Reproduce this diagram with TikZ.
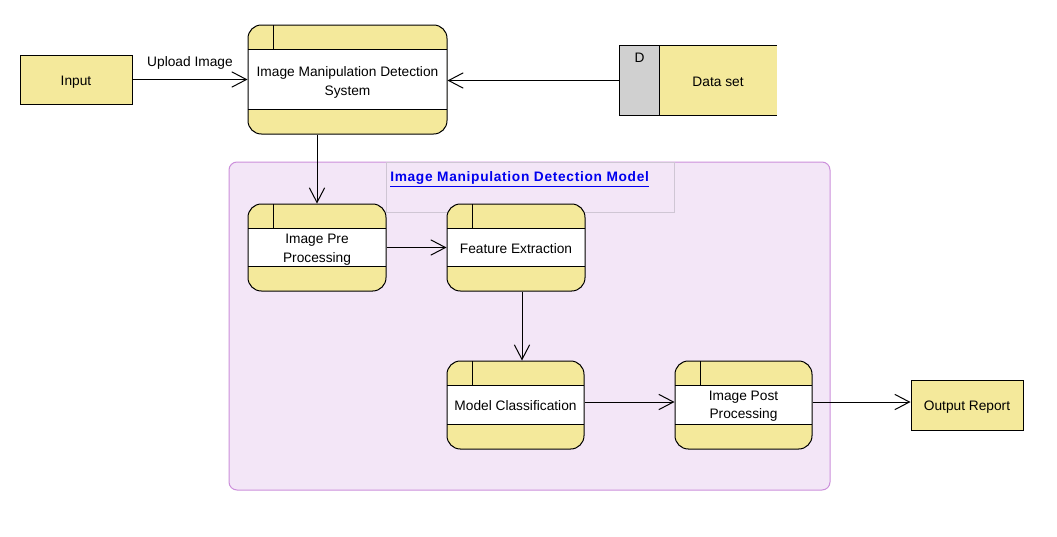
\documentclass[tikz,border=0pt]{standalone}
\usepackage{fontspec}
\setmainfont{Liberation Sans}
\usetikzlibrary{arrows.meta,calc}
\definecolor{dfdyellow}{HTML}{F4E99B}
\definecolor{dsgray}{HTML}{D0D0D0}
\definecolor{pkgfill}{HTML}{F3E6F7}
\definecolor{pkgline}{HTML}{CC8FDB}
\definecolor{titleline}{HTML}{CFC6D4}
\definecolor{linkblue}{HTML}{0000EE}
\tikzset{
  every node/.style={font=\fontsize{10.3}{13.8}\selectfont},
  conn/.style={draw=black,line width=0.75pt,-{Straight Barb[length=11pt,width=11.5pt,line width=0.75pt]}},
  entity/.style={draw=black,line width=0.75pt,fill=dfdyellow,rectangle,inner sep=0pt},
  txt/.style={label={[yshift=-#1,inner sep=0pt,align=center]center:{\nodetext}}},
  process/.style={draw=black,line width=0.75pt,fill=dfdyellow,rectangle,rounded corners=10pt,inner sep=0pt,align=center,
    path picture={
      \begin{scope}[sharp corners]
      \fill[white] ([yshift=-18pt]path picture bounding box.north west) rectangle ([yshift=18.75pt]path picture bounding box.south east);
      \draw[line width=0.75pt] ([yshift=-18pt]path picture bounding box.north west) -- ([yshift=-18pt]path picture bounding box.north east);
      \draw[line width=0.75pt] ([yshift=18.75pt]path picture bounding box.south west) -- ([yshift=18.75pt]path picture bounding box.south east);
      \draw[line width=0.75pt] ([xshift=18.75pt]path picture bounding box.north west) -- ([xshift=18.75pt,yshift=-18pt]path picture bounding box.north west);
      \end{scope}
    }},
  lbl/.style={label={[yshift=-#1,inner sep=0pt,align=center]center:}},
}
\begin{document}
\begin{tikzpicture}[x=0.75pt,y=-0.75pt]
\useasboundingbox (0,0) rectangle (1057,536);
% container
\draw[fill=pkgfill,draw=pkgline,line width=0.75pt,rounded corners=6pt] (229,162) rectangle (830,490);
\draw[draw=titleline,line width=0.75pt] (386,162) rectangle (674,212);
\node[anchor=base west,inner sep=0pt,text=linkblue,font=\fontsize{10.3}{12}\selectfont\bfseries\addfontfeatures{LetterSpace=5}] (title) at (390,181) {\underline{Image Manipulation Detection Model}};
% external entities
\node[entity,minimum width=84pt,minimum height=36.75pt,
  label={[yshift=-2pt,inner sep=0pt]center:Input}] (in) at (76,79.5) {};
\node[entity,minimum width=84pt,minimum height=37.5pt,
  label={[yshift=-1.5pt,inner sep=0pt]center:Output Report}] (out) at (967,405) {};
% processes
\node[process,minimum width=149.25pt,minimum height=81.75pt,
  label={[yshift=-2.25pt,inner sep=0pt,align=center]center:Image Manipulation Detection\\System}] (imds) at (347.5,79.5) {};
\node[process,minimum width=103.5pt,minimum height=65.25pt,
  label={[yshift=-1.5pt,inner sep=0pt,align=center]center:Image Pre\\Processing}] (pre) at (317,247.5) {};
\node[process,minimum width=103.5pt,minimum height=65.25pt,
  label={[yshift=-0.75pt,inner sep=0pt]center:Feature Extraction}] (feat) at (516,247.5) {};
\node[process,minimum width=102.75pt,minimum height=66pt,
  label={[yshift=-0.75pt,inner sep=0pt]center:Model Classification}] (mc) at (515.5,405) {};
\node[process,minimum width=102.75pt,minimum height=66pt,
  label={[yshift=-0.75pt,inner sep=0pt,align=center]center:Image Post\\Processing}] (ipp) at (743.5,405) {};
% data store
\node[rectangle,fill=dsgray,inner sep=0pt,minimum width=29.25pt,minimum height=51.75pt] (dsd) at (639.5,80.5) {};
\node[rectangle,fill=dfdyellow,inner sep=0pt,minimum width=87.75pt,minimum height=51.75pt,anchor=west] (ds) at (dsd.east) {};
\node at ($(ds.center)+(0,1.5)$) (dstext) {Data set};
\node[anchor=north] (dlab) at ($(dsd.north)+(0,3)$) {D};
\draw[line width=0.75pt] (ds.north east) -- (dsd.north west) -- (dsd.south west) -- (ds.south east);
\draw[line width=0.75pt] (dsd.north east) -- (dsd.south east);
% connectors
\draw[conn] (in.east) -- (in.east -| imds.west) node[midway,above=7pt,inner sep=0pt] (lab) {Upload Image};
\draw[conn] (dsd.west) -- (dsd.west -| imds.east);
\draw[conn] (pre.north |- imds.south) -- (pre.north);
\draw[conn] (pre.east) -- (pre.east -| feat.west);
\draw[conn] ([xshift=4.5pt]feat.south) -- ([xshift=4.5pt]feat.south |- mc.north);
\draw[conn] ([yshift=2.25pt]mc.east) -- ([yshift=2.25pt]mc.east -| ipp.west);
\draw[conn] ([yshift=2.25pt]ipp.east) -- ([yshift=2.25pt]ipp.east -| out.west);
\end{tikzpicture}
\end{document}
